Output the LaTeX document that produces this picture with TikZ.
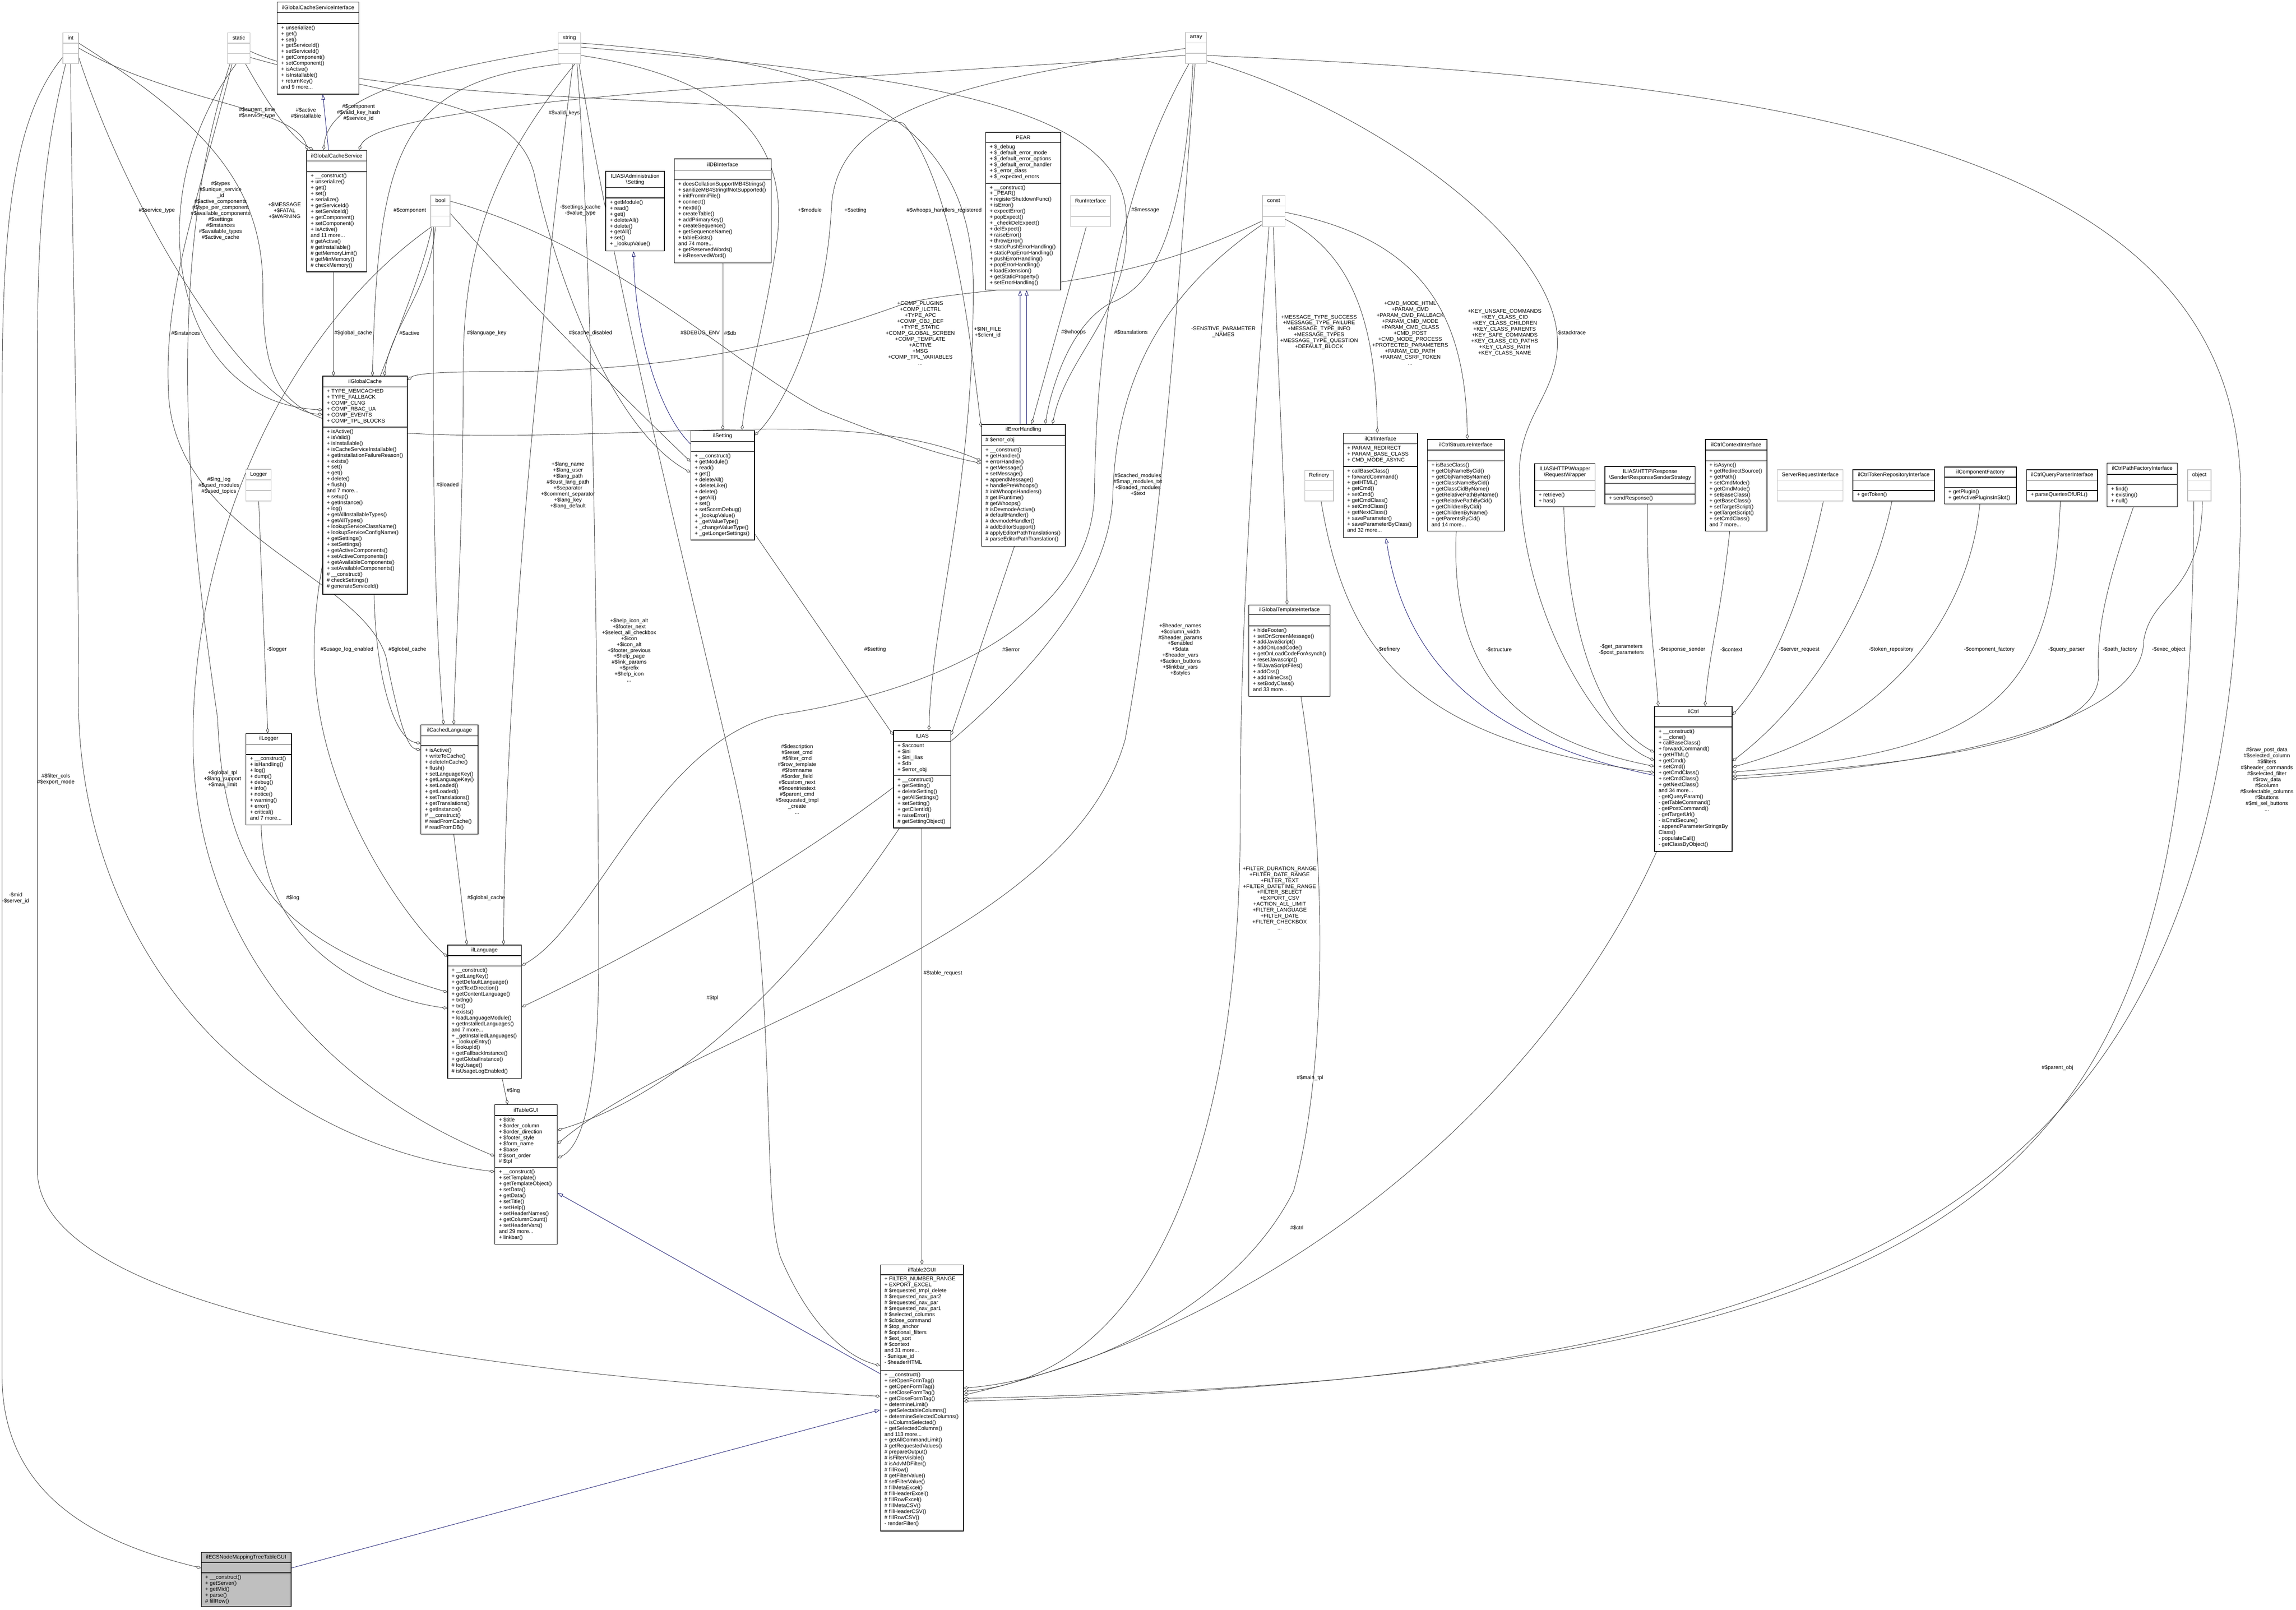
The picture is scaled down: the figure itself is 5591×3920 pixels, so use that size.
\documentclass[tikz,border=0pt]{standalone}
\usepackage{fontspec}
\setmainfont{Liberation Sans}
\usetikzlibrary{arrows.meta,fit}
\definecolor{edgec}{HTML}{404040}
\definecolor{inhc}{HTML}{191970}
\definecolor{grayb}{HTML}{BFBFBF}
\pgfdeclarelayer{bg}
\pgfsetlayers{bg,main}
\tikzset{
 fnt/.style={font=\fontsize{3.72}{4.12}\selectfont},
 cbox/.style={draw=black, line width=0.45pt, fill=white, inner sep=0pt},
 tbox/.style={draw=grayb, line width=0.45pt, fill=white, inner sep=0pt},
 ebox/.style={draw=black, line width=0.45pt, fill=grayb, inner sep=0pt},
 dline/.style={draw=black, line width=0.45pt},
 gline/.style={draw=grayb, line width=0.45pt},
 ttl/.style={fnt, inner sep=0pt, align=center},
 body/.style={fnt, inner sep=0pt, align=left, anchor=north west},
 lbl/.style={fnt, inner sep=0pt, align=center},
 agg/.style={draw=edgec, line width=0.3pt, -{Diamond[open, length=0.13cm, width=0.075cm]}},
 inh/.style={draw=inhc, line width=0.3pt, -{Triangle[open, length=0.13cm, width=0.09cm]}},
}
\newcommand{\mkbox}[6]{\node[#6, fit={(#2,#3) (#4,#5)}] (#1) {};}
\newcommand{\dv}[3]{\draw[#3] (#1.west |- 0,#2) -- (#1.east |- 0,#2);}
\newcommand{\tbx}[6]{% name x1 y1 x2 y2 title
 \mkbox{#1}{#2}{#3}{#4}{#5}{tbox}
 \draw[gline] (#1.west |- 0,{(2*#3+#5)/3}) -- (#1.east |- 0,{(2*#3+#5)/3});
 \draw[gline] (#1.west |- 0,{(#3+2*#5)/3}) -- (#1.east |- 0,{(#3+2*#5)/3});
 \node[ttl] (#1T) at ({(#2+#4)/2},{#3+(#5-#3)/6}) {#6};}
\begin{document}
\begin{tikzpicture}[x=0.01cm, y=-0.01cm]
\useasboundingbox (0,0) rectangle (5591,3920);

% ---------- type boxes ----------
\tbx{int}{153}{80}{191}{155}{int}
\tbx{static}{554}{80}{609}{155}{static}
\tbx{string}{1359}{80}{1414}{155}{string}
\tbx{array}{2887}{79}{2938}{155}{array}
\tbx{bool}{1049}{475}{1096}{552}{bool}
\tbx{runi}{2607}{476}{2704}{552}{RunInterface}
\tbx{const}{3074}{476}{3129}{552}{const}
\tbx{logger}{599}{1143}{660}{1220}{Logger}
\tbx{refinery}{3177}{1145}{3247}{1220}{Refinery}
\tbx{srvreq}{4328}{1144}{4488}{1220}{ServerRequestInterface}
\tbx{object}{5327}{1144}{5384}{1220}{object}

% ---------- class boxes ----------
\mkbox{gcsi}{675}{5}{874}{229}{cbox}\dv{gcsi}{31}{dline}\dv{gcsi}{57}{dline}
\node[ttl] (gcsiT) at (774.5,18) {ilGlobalCacheServiceInterface};
\node[body] (gcsiB) at (684,61.5) {+ unserialize()\\+ get()\\+ set()\\+ getServiceId()\\+ setServiceId()\\+ getComponent()\\+ setComponent()\\+ isActive()\\+ isInstallable()\\+ returnKey()\\and 9 more...};

\mkbox{gcs}{747}{366}{893}{662}{cbox}\dv{gcs}{392}{dline}\dv{gcs}{418}{dline}
\node[ttl] (gcsT) at (820,379) {ilGlobalCacheService};
\node[body] (gcsB) at (756,422.5) {+ \_\_construct()\\+ unserialize()\\+ get()\\+ set()\\+ serialize()\\+ getServiceId()\\+ setServiceId()\\+ getComponent()\\+ setComponent()\\+ isActive()\\and 11 more...\\\# getActive()\\\# getInstallable()\\\# getMemoryLimit()\\\# getMinMemory()\\\# checkMemory()};

\mkbox{admset}{1475}{417}{1618}{611}{cbox}\dv{admset}{457}{dline}\dv{admset}{482}{dline}
\node[ttl] (admsetT) at (1546.5,437) {ILIAS\textbackslash Administration\\\textbackslash Setting};
\node[body] (admsetB) at (1484,486.5) {+ getModule()\\+ read()\\+ get()\\+ deleteAll()\\+ delete()\\+ getAll()\\+ set()\\+ \_lookupValue()};

\mkbox{db}{1642}{387}{1878}{640}{cbox}\dv{db}{414}{dline}\dv{db}{438}{dline}
\node[ttl] (dbT) at (1760,400.5) {ilDBInterface};
\node[body] (dbB) at (1651,442.5) {+ doesCollationSupportMB4Strings()\\+ sanitizeMB4StringIfNotSupported()\\+ initFromIniFile()\\+ connect()\\+ nextId()\\+ createTable()\\+ addPrimaryKey()\\+ createSequence()\\+ getSequenceName()\\+ tableExists()\\and 74 more...\\+ getReservedWords()\\+ isReservedWord()};

\mkbox{pear}{2400}{322}{2583}{706}{cbox}\dv{pear}{347}{dline}\dv{pear}{446}{dline}
\node[ttl] (pearT) at (2491.5,334.5) {PEAR};
\node[body] (pearA) at (2409,351.5) {+ \$\_debug\\+ \$\_default\_error\_mode\\+ \$\_default\_error\_options\\+ \$\_default\_error\_handler\\+ \$\_error\_class\\+ \$\_expected\_errors};
\node[body] (pearB) at (2409,450.5) {+ \_\_construct()\\+ \_PEAR()\\+ registerShutdownFunc()\\+ isError()\\+ expectError()\\+ popExpect()\\+ \_checkDelExpect()\\+ delExpect()\\+ raiseError()\\+ throwError()\\+ staticPushErrorHandling()\\+ staticPopErrorHandling()\\+ pushErrorHandling()\\+ popErrorHandling()\\+ loadExtension()\\+ getStaticProperty()\\+ setErrorHandling()};

\mkbox{errh}{2390}{1033}{2594}{1330}{cbox}\dv{errh}{1060}{dline}\dv{errh}{1085}{dline}
\node[ttl] (errhT) at (2492,1046.5) {ilErrorHandling};
\node[body] (errhA) at (2399,1064.5) {\# \$error\_obj};
\node[body] (errhB) at (2399,1089.5) {+ \_\_construct()\\+ getHandler()\\+ errorHandler()\\+ getMessage()\\+ setMessage()\\+ appendMessage()\\+ handlePreWhoops()\\\# initWhoopsHandlers()\\\# getIlRuntime()\\\# getWhoops()\\\# isDevmodeActive()\\\# defaultHandler()\\\# devmodeHandler()\\\# addEditorSupport()\\\# applyEditorPathTranslations()\\\# parseEditorPathTranslation()};

\mkbox{ctrli}{3271}{1055}{3452}{1309}{cbox}\dv{ctrli}{1081}{dline}\dv{ctrli}{1136}{dline}
\node[ttl] (ctrliT) at (3361.5,1068) {ilCtrlInterface};
\node[body] (ctrliA) at (3280,1085.5) {+ PARAM\_REDIRECT\\+ PARAM\_BASE\_CLASS\\+ CMD\_MODE\_ASYNC};
\node[body] (ctrliB) at (3280,1140.5) {+ callBaseClass()\\+ forwardCommand()\\+ getHTML()\\+ getCmd()\\+ setCmd()\\+ getCmdClass()\\+ setCmdClass()\\+ getNextClass()\\+ saveParameter()\\+ saveParameterByClass()\\and 32 more...};

\mkbox{ctrls}{3476}{1070}{3663}{1293}{cbox}\dv{ctrls}{1096}{dline}\dv{ctrls}{1122}{dline}
\node[ttl] (ctrlsT) at (3569.5,1083) {ilCtrlStructureInterface};
\node[body] (ctrlsB) at (3485,1126.5) {+ isBaseClass()\\+ getObjNameByCid()\\+ getObjNameByName()\\+ getClassNameByCid()\\+ getClassCidByName()\\+ getRelativePathByName()\\+ getRelativePathByCid()\\+ getChildrenByCid()\\+ getChildrenByName()\\+ getParentsByCid()\\and 14 more...};

\mkbox{reqw}{3737}{1129}{3884}{1234}{cbox}\dv{reqw}{1169}{dline}\dv{reqw}{1195}{dline}
\node[ttl] (reqwT) at (3810.5,1149) {ILIAS\textbackslash HTTP\textbackslash Wrapper\\\textbackslash RequestWrapper};
\node[body] (reqwB) at (3746,1199.5) {+ retrieve()\\+ has()};

\mkbox{resp}{3908}{1136}{4128}{1227}{cbox}\dv{resp}{1177}{dline}\dv{resp}{1203}{dline}
\node[ttl] (respT) at (4018,1156.5) {ILIAS\textbackslash HTTP\textbackslash Response\\\textbackslash Sender\textbackslash ResponseSenderStrategy};
\node[body] (respB) at (3917,1207.5) {+ sendResponse()};

\mkbox{ctxi}{4153}{1070}{4303}{1293}{cbox}\dv{ctxi}{1096}{dline}\dv{ctxi}{1122}{dline}
\node[ttl] (ctxiT) at (4228,1083) {ilCtrlContextInterface};
\node[body] (ctxiB) at (4162,1126.5) {+ isAsync()\\+ getRedirectSource()\\+ getPath()\\+ setCmdMode()\\+ getCmdMode()\\+ setBaseClass()\\+ getBaseClass()\\+ setTargetScript()\\+ getTargetScript()\\+ setCmdClass()\\and 7 more...};

\mkbox{token}{4512}{1144}{4711}{1220}{cbox}\dv{token}{1169}{dline}\dv{token}{1194}{dline}
\node[ttl] (tokenT) at (4611.5,1156.5) {ilCtrlTokenRepositoryInterface};
\node[body] (tokenB) at (4521,1198.5) {+ getToken()};

\mkbox{compf}{4735}{1137}{4910}{1227}{cbox}\dv{compf}{1162}{dline}\dv{compf}{1187}{dline}
\node[ttl] (compfT) at (4822.5,1149.5) {ilComponentFactory};
\node[body] (compfB) at (4744,1191.5) {+ getPlugin()\\+ getActivePluginsInSlot()};

\mkbox{qparse}{4935}{1144}{5108}{1220}{cbox}\dv{qparse}{1169}{dline}\dv{qparse}{1194}{dline}
\node[ttl] (qparseT) at (5021.5,1156.5) {ilCtrlQueryParserInterface};
\node[body] (qparseB) at (4944,1198.5) {+ parseQueriesOfURL()};

\mkbox{pathf}{5131}{1128}{5302}{1234}{cbox}\dv{pathf}{1155}{dline}\dv{pathf}{1180}{dline}
\node[ttl] (pathfT) at (5216.5,1141.5) {ilCtrlPathFactoryInterface};
\node[body] (pathfB) at (5140,1184.5) {+ find()\\+ existing()\\+ null()};

\mkbox{gc}{786}{916}{992}{1447}{cbox}\dv{gc}{942}{dline}\dv{gc}{1040}{dline}
\node[ttl] (gcT) at (889,929) {ilGlobalCache};
\node[body] (gcA) at (795,946.5) {+ TYPE\_MEMCACHED\\+ TYPE\_FALLBACK\\+ COMP\_CLNG\\+ COMP\_RBAC\_UA\\+ COMP\_EVENTS\\+ COMP\_TPL\_BLOCKS};
\node[body] (gcB) at (795,1044.5) {+ isActive()\\+ isValid()\\+ isInstallable()\\+ isCacheServiceInstallable()\\+ getInstallationFailureReason()\\+ exists()\\+ set()\\+ get()\\+ delete()\\+ flush()\\and 7 more...\\+ setup()\\+ getInstance()\\+ log()\\+ getAllInstallableTypes()\\+ getAllTypes()\\+ lookupServiceClassName()\\+ lookupServiceConfigName()\\+ getSettings()\\+ setSettings()\\+ getActiveComponents()\\+ setActiveComponents()\\+ getAvailableComponents()\\+ setAvailableComponents()\\\# \_\_construct()\\\# checkSettings()\\\# generateServiceId()};

\mkbox{clang}{1025}{1765}{1164}{2031}{cbox}\dv{clang}{1792}{dline}\dv{clang}{1816}{dline}
\node[ttl] (clangT) at (1094.5,1778.5) {ilCachedLanguage};
\node[body] (clangB) at (1034,1820.5) {+ isActive()\\+ writeToCache()\\+ deleteInCache()\\+ flush()\\+ setLanguageKey()\\+ getLanguageKey()\\+ setLoaded()\\+ getLoaded()\\+ setTranslations()\\+ getTranslations()\\+ getInstance()\\\# \_\_construct()\\\# readFromCache()\\\# readFromDB()};

\mkbox{illog}{599}{1786}{710}{2009}{cbox}\dv{illog}{1812}{dline}\dv{illog}{1837}{dline}
\node[ttl] (illogT) at (654.5,1799) {ilLogger};
\node[body] (illogB) at (608,1841.5) {+ \_\_construct()\\+ isHandling()\\+ log()\\+ dump()\\+ debug()\\+ info()\\+ notice()\\+ warning()\\+ error()\\+ critical()\\and 7 more...};

\mkbox{lang}{1090}{2301}{1270}{2626}{cbox}\dv{lang}{2327}{dline}\dv{lang}{2352}{dline}
\node[ttl] (langT) at (1180,2314) {ilLanguage};
\node[body] (langB) at (1099,2356.5) {+ \_\_construct()\\+ getLangKey()\\+ getDefaultLanguage()\\+ getTextDirection()\\+ getContentLanguage()\\+ txtlng()\\+ txt()\\+ exists()\\+ loadLanguageModule()\\+ getInstalledLanguages()\\and 7 more...\\+ \_getInstalledLanguages()\\+ \_lookupEntry()\\+ lookupId()\\+ getFallbackInstance()\\+ getGlobalInstance()\\\# logUsage()\\\# isUsageLogEnabled()};

\mkbox{tgui}{1205}{2690}{1357}{3030}{cbox}\dv{tgui}{2716}{dline}\dv{tgui}{2843}{dline}
\node[ttl] (tguiT) at (1281,2703) {ilTableGUI};
\node[body] (tguiA) at (1214,2720.5) {+ \$title\\+ \$order\_column\\+ \$order\_direction\\+ \$footer\_style\\+ \$form\_name\\+ \$base\\\# \$sort\_order\\\# \$tpl};
\node[body] (tguiB) at (1214,2847.5) {+ \_\_construct()\\+ setTemplate()\\+ getTemplateObject()\\+ setData()\\+ getData()\\+ setTitle()\\+ setHelp()\\+ setHeaderNames()\\+ getColumnCount()\\+ setHeaderVars()\\and 29 more...\\+ linkbar()};

\mkbox{t2gui}{2144}{3080}{2346}{3728}{cbox}\dv{t2gui}{3104}{dline}\dv{t2gui}{3337}{dline}
\node[ttl] (t2guiT) at (2245,3092) {ilTable2GUI};
\node[body] (t2guiA) at (2153,3108.5) {+ FILTER\_NUMBER\_RANGE\\+ EXPORT\_EXCEL\\\# \$requested\_tmpl\_delete\\\# \$requested\_nav\_par2\\\# \$requested\_nav\_par\\\# \$requested\_nav\_par1\\\# \$selected\_columns\\\# \$close\_command\\\# \$top\_anchor\\\# \$optional\_filters\\\# \$ext\_sort\\\# \$context\\and 31 more...\\- \$unique\_id\\- \$headerHTML};
\node[body] (t2guiB) at (2153,3341.5) {+ \_\_construct()\\+ setOpenFormTag()\\+ getOpenFormTag()\\+ setCloseFormTag()\\+ getCloseFormTag()\\+ determineLimit()\\+ getSelectableColumns()\\+ determineSelectedColumns()\\+ isColumnSelected()\\+ getSelectedColumns()\\and 113 more...\\+ getAllCommandLimit()\\\# getRequestedValues()\\\# prepareOutput()\\\# isFilterVisible()\\\# isAdvMDFilter()\\\# fillRow()\\\# getFilterValue()\\\# setFilterValue()\\\# fillMetaExcel()\\\# fillHeaderExcel()\\\# fillRowExcel()\\\# fillMetaCSV()\\\# fillHeaderCSV()\\\# fillRowCSV()\\- renderFilter()};

\mkbox{ecs}{490}{3780}{709}{3912}{ebox}\dv{ecs}{3804}{dline}\dv{ecs}{3830}{dline}
\node[ttl] (ecsT) at (599.5,3792) {ilECSNodeMappingTreeTableGUI};
\node[body] (ecsB) at (499,3834.5) {+ \_\_construct()\\+ getServer()\\+ getMid()\\+ parse()\\\# fillRow()};

\mkbox{setting}{1682}{1048}{1837}{1315}{cbox}\dv{setting}{1075}{dline}\dv{setting}{1100}{dline}
\node[ttl] (settingT) at (1759.5,1061.5) {ilSetting};
\node[body] (settingB) at (1691,1104.5) {+ \_\_construct()\\+ getModule()\\+ read()\\+ get()\\+ deleteAll()\\+ deleteLike()\\+ delete()\\+ getAll()\\+ set()\\+ setScormDebug()\\+ \_lookupValue()\\+ \_getValueType()\\+ \_changeValueType()\\+ \_getLongerSettings()};

\mkbox{ilias}{2176}{1779}{2315}{2016}{cbox}\dv{ilias}{1805}{dline}\dv{ilias}{1888}{dline}
\node[ttl] (iliasT) at (2245.5,1792) {ILIAS};
\node[body] (iliasA) at (2185,1809.5) {+ \$account\\+ \$ini\\+ \$ini\_ilias\\+ \$db\\+ \$error\_obj};
\node[body] (iliasB) at (2185,1892.5) {+ \_\_construct()\\+ getSetting()\\+ deleteSetting()\\+ getAllSettings()\\+ setSetting()\\+ getClientId()\\+ raiseError()\\\# getSettingObject()};

\mkbox{gtpl}{3041}{1473}{3239}{1696}{cbox}\dv{gtpl}{1497}{dline}\dv{gtpl}{1524}{dline}
\node[ttl] (gtplT) at (3140,1485) {ilGlobalTemplateInterface};
\node[body] (gtplB) at (3050,1528.5) {+ hideFooter()\\+ setOnScreenMessage()\\+ addJavaScript()\\+ addOnLoadCode()\\+ getOnLoadCodeForAsynch()\\+ resetJavascript()\\+ fillJavaScriptFiles()\\+ addCss()\\+ addInlineCss()\\+ setBodyClass()\\and 33 more...};

\mkbox{ctrl}{4029}{1720}{4218}{2073}{cbox}\dv{ctrl}{1745}{dline}\dv{ctrl}{1770}{dline}
\node[ttl] (ctrlT) at (4123.5,1732.5) {ilCtrl};
\node[body] (ctrlB) at (4038,1774.5) {+ \_\_construct()\\+ \_\_clone()\\+ callBaseClass()\\+ forwardCommand()\\+ getHTML()\\+ getCmd()\\+ setCmd()\\+ getCmdClass()\\+ setCmdClass()\\+ getNextClass()\\and 34 more...\\- getQueryParam()\\- getTableCommand()\\- getPostCommand()\\- getTargetUrl()\\- isCmdSecure()\\- appendParameterStringsBy\\Class()\\- populateCall()\\- getClassByObject()};

% ---------- connectors ----------
\begin{pgfonlayer}{bg}
% ilGlobalCacheService
\draw[agg] (int.east |- 0,117) .. controls (420,250) and (720,260) .. (749,0 |- gcs.north);
\draw[agg] (598,0 |- static.south) .. controls (640,230) and (700,330) .. (763,0 |- gcs.north);
\draw[agg] (string.west |- 0,120) .. controls (1050,170) and (800,230) .. (788,0 |- gcs.north);
\draw[agg] (array.west |- 0,135) .. controls (1900,200) and (920,250) .. (874,0 |- gcs.north);
\draw[inh] (800,0 |- gcs.north) -- (786,0 |- gcsi.south);
% ilGlobalCache
\draw[agg] (575,0 |- static.south) .. controls (330,480) and (420,980) .. (gc.west |- 0,998);
\draw[agg] (int.east |- 0,140) .. controls (330,560) and (620,1000) .. (gc.west |- 0,1009);
\draw[agg] (812,0 |- gcs.south) -- (812,0 |- gc.north);
\draw[agg] (1365,0 |- string.south) .. controls (980,200) and (920,350) .. (907,0 |- gc.north);
\draw[agg] (1060,0 |- bool.south) .. controls (1050,700) and (950,800) .. (936,0 |- gc.north);
\draw[agg] (const.west |- 0,538) .. controls (2700,720) and (2400,690) .. (2200,740) .. controls (1900,850) and (1600,905) .. (1200,905) .. controls (1050,905) and (1010,912) .. (gc.east |- 0,925);
% ilCachedLanguage
\draw[agg] (1056,0 |- bool.south) .. controls (1055,900) and (1050,1400) .. (1080,0 |- clang.north);
\draw[agg] (1400,0 |- string.south) .. controls (1200,400) and (1128,600) .. (1128,900) .. controls (1128,1300) and (1108,1600) .. (1105,0 |- clang.north);
\draw[agg] (911,0 |- gc.south) .. controls (915,1650) and (960,1800) .. (clang.west |- 0,1810);
\draw[agg] (565,0 |- static.south) .. controls (480,500) and (400,700) .. (410,950) .. controls (420,1300) and (880,1400) .. (940,1600) .. controls (970,1750) and (990,1820) .. (clang.west |- 0,1826);
% ilLogger, ilLanguage
\draw[agg] (630,0 |- logger.south) -- (652,0 |- illog.north);
\draw[agg] (636,0 |- illog.south) .. controls (640,2300) and (900,2430) .. (lang.west |- 0,2455);
\draw[agg] (1105,0 |- clang.south) -- (1137,0 |- lang.north);
\draw[agg] (1395,0 |- string.south) .. controls (1300,900) and (1230,1700) .. (1226,0 |- lang.north);
\draw[agg] (1052,0 |- bool.south) .. controls (1000,800) and (760,1200) .. (765,1600) .. controls (770,1950) and (1000,2250) .. (lang.west |- 0,2330);
\draw[agg] (560,0 |- static.south) .. controls (380,700) and (480,1400) .. (530,1750) .. controls (545,2150) and (700,2300) .. (lang.west |- 0,2416);
\draw[agg] (2895,0 |- array.south) .. controls (2700,500) and (2670,900) .. (2665,1200) .. controls (2660,1500) and (2300,1680) .. (1900,1740) .. controls (1600,1800) and (1450,2250) .. (lang.east |- 0,2351);
\draw[agg] (const.west |- 0,547) .. controls (2850,700) and (2720,900) .. (2710,1200) .. controls (2700,1700) and (1700,2250) .. (lang.east |- 0,2452);
% ilTableGUI
\draw[agg] (1223,0 |- lang.south) -- (1236,0 |- tgui.north);
\draw[agg] (1405,0 |- string.south) .. controls (1440,600) and (1455,1500) .. (1458,2300) .. controls (1460,2650) and (1420,2790) .. (tgui.east |- 0,2820);
\draw[agg] (2190,0 |- ilias.south) .. controls (2000,2300) and (1700,2650) .. (tgui.east |- 0,2752);
\draw[agg] (2910,0 |- array.south) .. controls (2870,700) and (2830,1300) .. (2740,1800) .. controls (2600,2300) and (1700,2500) .. (tgui.east |- 0,2785);
\draw[agg] (1050,0 |- bool.south) .. controls (700,800) and (470,1300) .. (470,1800) .. controls (470,2300) and (800,2650) .. (tgui.west |- 0,2815);
\draw[agg] (172,0 |- int.south) .. controls (175,600) and (191,1100) .. (191,1700) .. controls (191,2300) and (600,2780) .. (tgui.west |- 0,2853);
% ilTable2GUI
\draw[inh] (t2gui.west |- 0,3345) -- (tgui.east |- 0,2905);
\draw[inh] (ecs.east |- 0,3818) -- (t2gui.west |- 0,3433);
\draw[agg] (160,0 |- int.south) .. controls (100,400) and (91,600) .. (91,900) -- (91,2850) .. controls (91,3150) and (900,3330) .. (t2gui.west |- 0,3400);
\draw[agg] (int.west |- 0,140) .. controls (20,300) and (5,600) .. (5,1000) -- (5,3350) .. controls (5,3650) and (250,3760) .. (ecs.west |- 0,3818);
\draw[agg] (1410,0 |- string.south) .. controls (1500,700) and (1650,1300) .. (1790,1900) .. controls (1900,2400) and (1850,2900) .. (1900,3060) .. controls (1980,3250) and (2080,3310) .. (t2gui.west |- 0,3325);
\draw[agg] (2245,0 |- ilias.south) -- (2245,0 |- t2gui.north);
\draw[agg] (3168,0 |- gtpl.south) .. controls (3232,2100) and (3232,2600) .. (3150,2900) .. controls (3000,3200) and (2600,3360) .. (t2gui.east |- 0,3380);
\draw[agg] (3090,0 |- const.south) .. controls (3050,1100) and (3020,1500) .. (3020,2000) .. controls (3020,2800) and (2800,3350) .. (t2gui.east |- 0,3388);
\draw[agg] (4034,0 |- ctrl.south) .. controls (3800,2600) and (3200,3200) .. (t2gui.east |- 0,3397);
\draw[agg] (5342,0 |- object.south) .. controls (5335,2800) and (5000,3350) .. (t2gui.east |- 0,3405);
\draw[agg] (array.east |- 0,135) .. controls (4500,200) and (5456,400) .. (5456,1200) .. controls (5456,3000) and (4500,3350) .. (t2gui.east |- 0,3412);
% ilSetting
\draw[inh] (setting.west |- 0,1081) .. controls (1600,1000) and (1545,800) .. (1543,0 |- admset.south);
\draw[agg] (1760,0 |- db.south) -- (1760,0 |- setting.north);
\draw[agg] (string.east |- 0,135) .. controls (1850,200) and (1920,400) .. (1890,600) .. controls (1860,800) and (1815,950) .. (1807,0 |- setting.north);
\draw[agg] (array.west |- 0,118) .. controls (2300,200) and (2040,280) .. (2025,500) .. controls (2010,800) and (1900,1000) .. (setting.east |- 0,1060);
\draw[agg] (bool.east |- 0,520) .. controls (1300,750) and (1500,950) .. (setting.west |- 0,1124);
\draw[agg] (static.east |- 0,140) .. controls (1000,250) and (1250,240) .. (1300,420) .. controls (1360,700) and (1500,1050) .. (setting.west |- 0,1150);
% ilErrorHandling
\draw[inh] (2484,0 |- errh.north) -- (2484,0 |- pear.south);
\draw[inh] (2500,0 |- errh.north) -- (2500,0 |- pear.south);
\draw[agg] (static.east |- 0,125) .. controls (900,260) and (1900,230) .. (2200,300) .. controls (2320,450) and (2360,800) .. (errh.west |- 0,1040);
\draw[agg] (int.east |- 0,105) .. controls (500,300) and (640,450) .. (640,700) .. controls (640,1000) and (700,1060) .. (1200,1060) .. controls (1700,1060) and (2100,1000) .. (errh.west |- 0,1122);
\draw[agg] (bool.east |- 0,490) .. controls (1500,600) and (1800,900) .. (2000,1000) .. controls (2200,1080) and (2300,1110) .. (errh.west |- 0,1128);
\draw[agg] (2645,0 |- runi.south) -- (2512,0 |- errh.north);
\draw[agg] (2905,0 |- array.south) .. controls (2880,600) and (2800,700) .. (2700,740) .. controls (2600,800) and (2560,950) .. (2545,0 |- errh.north);
\draw[agg] (string.east |- 0,115) .. controls (2200,180) and (2700,250) .. (2740,500) .. controls (2770,750) and (2600,850) .. (2563,0 |- errh.north);
% ILIAS
\draw[agg] (setting.east |- 0,1300) -- (ilias.west |- 0,1790);
\draw[agg] (2470,0 |- errh.south) -- (ilias.east |- 0,1790);
\draw[agg] (string.east |- 0,105) .. controls (2000,150) and (2370,250) .. (2370,700) .. controls (2370,1200) and (2270,1500) .. (2262,0 |- ilias.north);
% templates / ctrl interfaces
\draw[agg] (3101,0 |- const.south) .. controls (3110,900) and (3130,1200) .. (3134,0 |- gtpl.north);
\draw[agg] (const.east |- 0,534) .. controls (3300,620) and (3350,800) .. (3354,0 |- ctrli.north);
\draw[agg] (const.east |- 0,517) .. controls (3450,580) and (3570,750) .. (3573,0 |- ctrls.north);
% ilCtrl
\draw[inh] (ctrl.west |- 0,1888) .. controls (3600,1800) and (3420,1600) .. (3375,0 |- ctrli.south);
\draw[agg] (3217,0 |- refinery.south) .. controls (3280,1600) and (3450,1800) .. (ctrl.west |- 0,1881);
\draw[agg] (3546,0 |- ctrls.south) .. controls (3530,1650) and (3700,1800) .. (ctrl.west |- 0,1866);
\draw[agg] (array.east |- 0,148) .. controls (3300,250) and (3750,550) .. (3790,800) .. controls (3810,950) and (3700,1000) .. (3700,1150) .. controls (3700,1500) and (3900,1800) .. (ctrl.west |- 0,1851);
\draw[agg] (3808,0 |- reqw.south) .. controls (3815,1500) and (3880,1750) .. (ctrl.west |- 0,1832);
\draw[agg] (4012,0 |- resp.south) .. controls (4010,1500) and (4030,1600) .. (4038,0 |- ctrl.north);
\draw[agg] (4212,0 |- ctxi.south) .. controls (4190,1500) and (4160,1600) .. (4152,0 |- ctrl.north);
\draw[agg] (4440,0 |- srvreq.south) .. controls (4380,1500) and (4300,1650) .. (ctrl.east |- 0,1741);
\draw[agg] (4607,0 |- token.south) .. controls (4560,1450) and (4420,1700) .. (ctrl.east |- 0,1853);
\draw[agg] (4821,0 |- compf.south) .. controls (4800,1450) and (4650,1750) .. (ctrl.east |- 0,1868);
\draw[agg] (5017,0 |- qparse.south) .. controls (5000,1700) and (4850,1830) .. (ctrl.east |- 0,1880);
\draw[agg] (5195,0 |- pathf.south) .. controls (5120,1450) and (5105,1550) .. (5110,1650) .. controls (5100,1800) and (4700,1860) .. (ctrl.east |- 0,1890);
\draw[agg] (5363,0 |- object.south) .. controls (5360,1450) and (5240,1440) .. (5220,1560) .. controls (5220,1720) and (4900,1850) .. (ctrl.east |- 0,1897);
\end{pgfonlayer}

% ---------- labels ----------
\node[lbl] (l1) at (626,275) {\#\$current\_time\\\#\$service\_type};
\node[lbl] (l2) at (745,275) {\#\$active\\\#\$installable};
\node[lbl] (l3) at (873,274) {\#\$component\\\#\$valid\_key\_hash\\\#\$service\_id};
\node[lbl] (l4) at (1374,275) {\#\$valid\_keys};
\node[lbl] (l5) at (537,513) {\#\$types\\\#\$unique\_service\\\_id\\\#\$active\_components\\\#\$type\_per\_component\\\#\$available\_components\\\#\$settings\\\#\$instances\\\#\$available\_types\\\#\$active\_cache};
\node[lbl] (l6) at (382,512) {\#\$service\_type};
\node[lbl] (l7) at (693,513) {+\$MESSAGE\\+\$FATAL\\+\$WARNING};
\node[lbl] (l8) at (998,512) {\#\$component};
\node[lbl] (l9) at (1413,512) {-\$settings\_cache\\-\$value\_type};
\node[lbl] (l10) at (1972,512) {+\$module};
\node[lbl] (l11) at (2083,512) {+\$setting};
\node[lbl] (l12) at (2299,512) {\#\$whoops\_handlers\_registered};
\node[lbl] (l13) at (2789,511) {\#\$message};
\node[lbl] (l14) at (860,811) {\#\$global\_cache};
\node[lbl] (l15) at (997,811) {\#\$active};
\node[lbl] (l64) at (1185,811) {\#\$language\_key};
\node[lbl] (l65) at (452,811) {\#\$instances};
\node[lbl] (l16) at (1438,811) {\#\$cache\_disabled};
\node[lbl] (l17) at (1705,811) {\#\$DEBUG\_ENV};
\node[lbl] (l18) at (1778,811) {\#\$db};
\node[lbl] (l19) at (2241,811) {+COMP\_PLUGINS\\+COMP\_ILCTRL\\+TYPE\_APC\\+COMP\_OBJ\_DEF\\+TYPE\_STATIC\\+COMP\_GLOBAL\_SCREEN\\+COMP\_TEMPLATE\\+ACTIVE\\+MSG\\+COMP\_TPL\_VARIABLES\\...};
\node[lbl] (l20) at (2405,809) {+\$INI\_FILE\\+\$client\_id};
\node[lbl] (l21) at (2614,809) {\#\$whoops};
\node[lbl] (l22) at (2754,809) {\#\$translations};
\node[lbl] (l23) at (2979,809) {-SENSTIVE\_PARAMETER\\\_NAMES};
\node[lbl] (l24) at (3212,809) {+MESSAGE\_TYPE\_SUCCESS\\+MESSAGE\_TYPE\_FAILURE\\+MESSAGE\_TYPE\_INFO\\+MESSAGE\_TYPES\\+MESSAGE\_TYPE\_QUESTION\\+DEFAULT\_BLOCK};
\node[lbl] (l25) at (3434,811) {+CMD\_MODE\_HTML\\+PARAM\_CMD\\+PARAM\_CMD\_FALLBACK\\+PARAM\_CMD\_MODE\\+PARAM\_CMD\_CLASS\\+CMD\_POST\\+CMD\_MODE\_PROCESS\\+PROTECTED\_PARAMETERS\\+PARAM\_CID\_PATH\\+PARAM\_CSRF\_TOKEN\\...};
\node[lbl] (l26) at (3664,810) {+KEY\_UNSAFE\_COMMANDS\\+KEY\_CLASS\_CID\\+KEY\_CLASS\_CHILDREN\\+KEY\_CLASS\_PARENTS\\+KEY\_SAFE\_COMMANDS\\+KEY\_CLASS\_CID\_PATHS\\+KEY\_CLASS\_PATH\\+KEY\_CLASS\_NAME};
\node[lbl] (l27) at (3826,810) {-\$stacktrace};
\node[lbl] (l28) at (533,1182) {\#\$lng\_log\\\#\$used\_modules\\\#\$used\_topics};
\node[lbl] (l29) at (1090,1180) {\#\$loaded};
\node[lbl] (l30) at (1383,1182) {+\$lang\_name\\+\$lang\_user\\+\$lang\_path\\\#\$cust\_lang\_path\\+\$separator\\+\$comment\_separator\\+\$lang\_key\\+\$lang\_default};
\node[lbl] (l31) at (2771,1180) {\#\$cached\_modules\\\#\$map\_modules\_txt\\+\$loaded\_modules\\+\$text};
\node[lbl] (l32) at (674,1582) {-\$logger};
\node[lbl] (l33) at (845,1582) {\#\$usage\_log\_enabled};
\node[lbl] (l34) at (992,1582) {\#\$global\_cache};
\node[lbl] (l35) at (1532,1583) {+\$help\_icon\_alt\\+\$footer\_next\\+\$select\_all\_checkbox\\+\$icon\\+\$icon\_alt\\+\$footer\_previous\\+\$help\_page\\\#\$link\_params\\+\$prefix\\+\$help\_icon\\...};
\node[lbl] (l36) at (2131,1582) {\#\$setting};
\node[lbl] (l37) at (2462,1582) {\#\$error};
\node[lbl] (l38) at (2874,1582) {+\$header\_names\\+\$column\_width\\\#\$header\_params\\+\$enabled\\+\$data\\+\$header\_vars\\+\$action\_buttons\\+\$linkbar\_vars\\+\$styles};
\node[lbl] (l39) at (3381,1582) {-\$refinery};
\node[lbl] (l40) at (3650,1582) {-\$structure};
\node[lbl] (l41) at (3948,1582) {-\$get\_parameters\\-\$post\_parameters};
\node[lbl] (l42) at (4096,1582) {-\$response\_sender};
\node[lbl] (l43) at (4216,1582) {-\$context};
\node[lbl] (l44) at (4381,1582) {-\$server\_request};
\node[lbl] (l45) at (4605,1582) {-\$token\_repository};
\node[lbl] (l46) at (4844,1582) {-\$component\_factory};
\node[lbl] (l47) at (5032,1582) {-\$query\_parser};
\node[lbl] (l48) at (5162,1582) {-\$path\_factory};
\node[lbl] (l49) at (5281,1582) {-\$exec\_object};
\node[lbl] (l50) at (136,1897) {\#\$filter\_cols\\\#\$export\_mode};
\node[lbl] (l51) at (542,1897) {+\$global\_tpl\\+\$lang\_support\\+\$max\_limit};
\node[lbl] (l52) at (1941,1897) {\#\$description\\\#\$reset\_cmd\\\#\$filter\_cmd\\\#\$row\_template\\\#\$formname\\\#\$order\_field\\\#\$custom\_next\\\#\$noentriestext\\\#\$parent\_cmd\\\#\$requested\_tmpl\\\_create\\...};
\node[lbl] (l53) at (5520,1898) {\#\$raw\_post\_data\\\#\$selected\_column\\\#\$filters\\\#\$header\_commands\\\#\$selected\_filter\\\#\$row\_data\\\#\$column\\\#\$selectable\_columns\\\#\$buttons\\\#\$mi\_sel\_buttons\\...};
\node[lbl] (l54) at (38,2187) {-\$mid\\-\$server\_id};
\node[lbl] (l55) at (713,2186) {\#\$log};
\node[lbl] (l56) at (1184,2186) {\#\$global\_cache};
\node[lbl] (l57) at (3116,2187) {+FILTER\_DURATION\_RANGE\\+FILTER\_DATE\_RANGE\\+FILTER\_TEXT\\+FILTER\_DATETIME\_RANGE\\+FILTER\_SELECT\\+EXPORT\_CSV\\+ACTION\_ALL\_LIMIT\\+FILTER\_LANGUAGE\\+FILTER\_DATE\\+FILTER\_CHECKBOX\\...};
\node[lbl] (l58) at (2296,2370) {\#\$table\_request};
\node[lbl] (l59) at (1735,2430) {\#\$tpl};
\node[lbl] (l60) at (3190,2625) {\#\$main\_tpl};
\node[lbl] (l61) at (5010,2600) {\#\$parent\_obj};
\node[lbl] (l62) at (1250,2656) {\#\$lng};
\node[lbl] (l63) at (3158,2990) {\#\$ctrl};
\end{tikzpicture}
\end{document}
